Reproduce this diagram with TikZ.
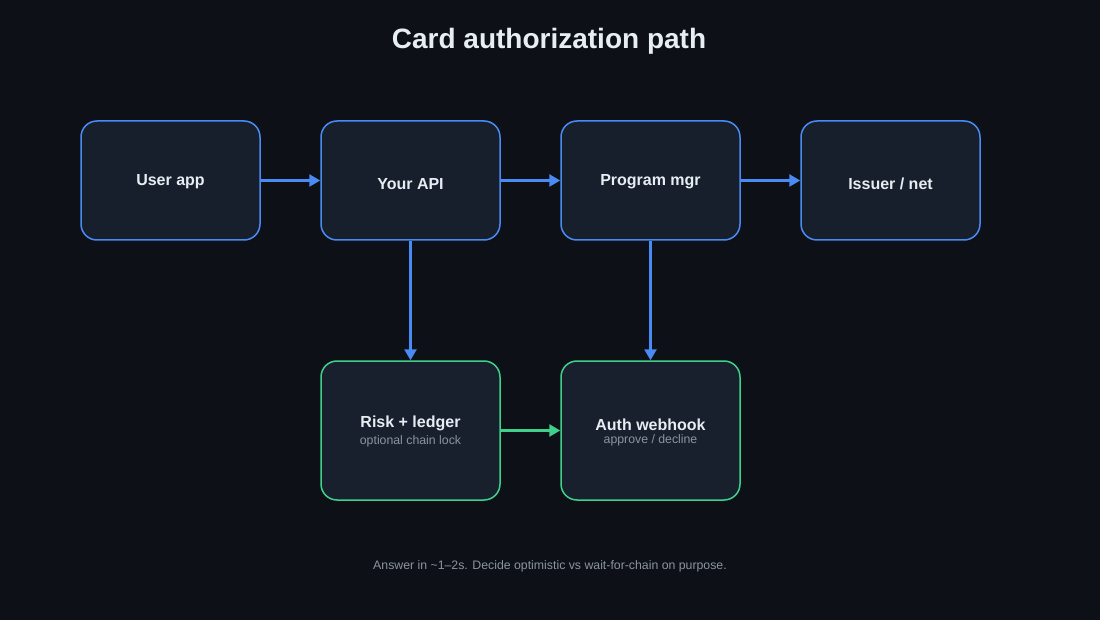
\documentclass[tikz,border=0pt]{standalone}
\usepackage{fontspec}
\setmainfont{Liberation Sans}
\usetikzlibrary{arrows.meta}
\definecolor{bg}{HTML}{0D1117}
\definecolor{boxfill}{HTML}{161F2B}
\definecolor{boxfillg}{HTML}{18202E}
\definecolor{blu}{HTML}{4A8AF4}
\definecolor{grn}{HTML}{3FD08A}
\definecolor{txt}{HTML}{E6EDF3}
\definecolor{sub}{HTML}{8B949E}
\begin{document}
\begin{tikzpicture}[x=1pt,y=-1pt,
  box/.style={draw=blu,line width=1.5pt,fill=boxfill,rounded corners=16pt,minimum width=179pt,minimum height=119pt,inner sep=0pt},
  gbox/.style={box,draw=grn,fill=boxfillg,minimum height=139pt},
  lab/.style={text=txt,font=\bfseries\fontsize{16}{18}\selectfont},
  subl/.style={text=sub,font=\fontsize{12.3}{14}\selectfont},
  arr/.style={-{Triangle[length=11pt,width=12pt]},line width=2.6pt,draw=blu},
  garr/.style={arr,draw=grn}]
\fill[bg] (0,0) rectangle (1100,620);
\useasboundingbox (0,0) rectangle (1100,620);
\node[text=txt,font=\bfseries\fontsize{28}{32}\selectfont] (title) at (549,41) {Card authorization path};
\node[box] (user) at (170.5,180.5) {};
\node[lab] at (170.5,182) {User app};
\node[box] (api) at (410.5,180.5) {};
\node[lab] at (410.5,184) {Your API};
\node[box] (pm) at (650.5,180.5) {};
\node[lab] at (650.5,182) {Program mgr};
\node[box] (iss) at (890.5,180.5) {};
\node[lab] at (890.5,184) {Issuer / net};
\node[gbox] (risk) at (410.5,430.5) {};
\node[lab] at (410.5,423) {Risk + ledger};
\node[subl] at (410.5,441) {optional chain lock};
\node[gbox] (auth) at (650.5,430.5) {};
\node[lab] at (650.5,425) {Auth webhook};
\node[subl] at (650.5,440) {approve / decline};
\node[subl] (foot) at (550,566) {Answer in \textasciitilde1–2s. Decide optimistic vs wait-for-chain on purpose.};
\draw[arr] (user.east) -- (api.west);
\draw[arr] (api.east) -- (pm.west);
\draw[arr] (pm.east) -- (iss.west);
\draw[arr] (api.south) -- (risk.north);
\draw[arr] (pm.south) -- (auth.north);
\draw[garr] (risk.east) -- (auth.west);
\end{tikzpicture}
\end{document}
